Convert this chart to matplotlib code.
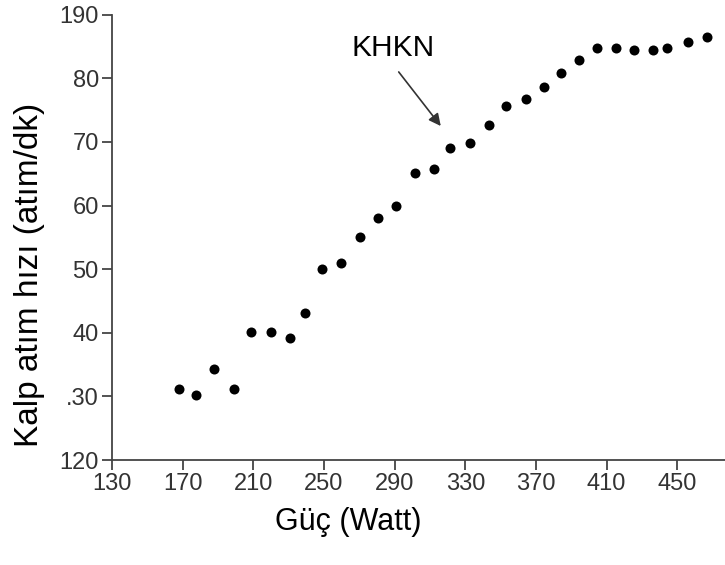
import matplotlib
matplotlib.use("Agg")
import matplotlib.pyplot as plt

plt.rcParams['font.family'] = ['Liberation Sans', 'DejaVu Sans']

power_w = [168.0, 177.7, 187.9, 199.2, 208.9, 220.2, 231.0, 239.5, 249.1, 259.9,
           270.1, 280.4, 290.6, 301.3, 312.1, 321.2, 332.6, 343.3, 353.0, 364.3,
           374.5, 384.2, 394.4, 404.6, 415.4, 425.6, 436.4, 444.3, 456.2, 467.0]
heart_rate = [131.2, 130.2, 134.3, 131.2, 140.1, 140.1, 139.2, 143.1, 150.0, 151.0,
              155.1, 158.1, 159.9, 165.1, 165.8, 169.1, 169.8, 172.7, 175.7, 176.8,
              178.6, 180.8, 182.9, 184.8, 184.8, 184.5, 184.5, 184.8, 185.7, 186.5]

x_ticks = [130, 170, 210, 250, 290, 330, 370, 410, 450]
x_tick_labels = ["130", "170", "210", "250", "290", "330", "370", "410", "450"]
y_ticks = [120, 130, 140, 150, 160, 170, 180, 190]
y_tick_labels = ["120", ".30", "40", "50", "60", "70", "80", "190"]

annot_text = "KHKN"
annot_xy = (316.1, 172.5)
annot_tail = (292.3, 181.0)
annot_text_xy = (289.0, 184.7)

fig = plt.figure(figsize=(7.25, 5.65), dpi=100)
ax = fig.add_axes([0.1545, 0.1858, 0.8455, 0.7882])

ax.scatter(power_w, heart_rate, s=52, color='black', zorder=3, linewidths=0)

ax.set_xlim(130, 477)
ax.set_ylim(120, 190)
ax.set_xticks(x_ticks)
ax.set_xticklabels(x_tick_labels)
ax.set_yticks(y_ticks)
ax.set_yticklabels(y_tick_labels)

for s in ['top', 'right']:
    ax.spines[s].set_visible(False)
for s in ['left', 'bottom']:
    ax.spines[s].set_color('#444444')
    ax.spines[s].set_linewidth(1.3)

ax.tick_params(axis='both', direction='out', length=7.5, width=1.3, color='#444444',
               labelsize=17, labelcolor='#333333', pad=2)

ax.set_xlabel("Güç (Watt)", fontsize=22, color='black', va='center')
ax.xaxis.set_label_coords(0.385, -0.140)
ax.set_ylabel("Kalp atım hızı (atım/dk)", fontsize=24, color='black', va='center')
ax.yaxis.set_label_coords(-0.134, 0.415)

ax.text(annot_text_xy[0], annot_text_xy[1], annot_text, fontsize=21.5,
        ha='center', va='center', color='black')
ax.annotate("", xy=annot_xy, xytext=annot_tail,
            arrowprops=dict(arrowstyle='-|>', color='#333333', lw=1.2,
                            mutation_scale=18, shrinkA=0, shrinkB=0))

fig.savefig("out.png", dpi=100)
